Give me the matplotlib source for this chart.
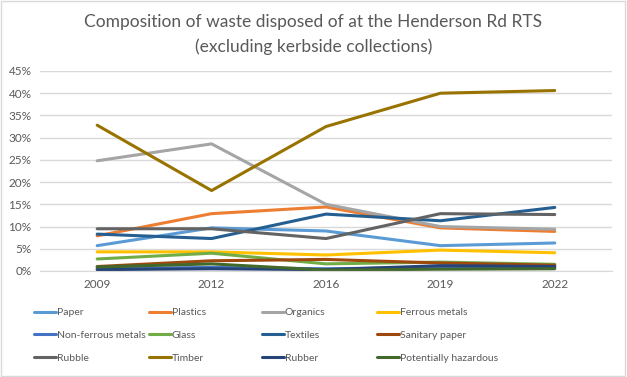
import numpy as np
import matplotlib.pyplot as plt
from matplotlib.patches import Rectangle
from matplotlib.ticker import PercentFormatter

plt.rcParams['font.family'] = ['Lato', 'DejaVu Sans']

years = ['2009', '2012', '2016', '2019', '2022']

paper = [5.7, 9.7, 9.0, 5.7, 6.3]
plastics = [7.9, 12.9, 14.4, 9.7, 8.9]
organics = [24.8, 28.6, 15.0, 10.0, 9.4]
ferrous = [4.3, 4.3, 3.6, 4.7, 4.1]
non_ferrous = [0.5, 0.8, 0.5, 0.8, 0.8]
glass = [2.7, 4.0, 1.6, 2.0, 1.5]
textiles = [8.3, 7.3, 12.8, 11.3, 14.3]
sanitary = [1.0, 2.3, 2.6, 1.8, 1.3]
rubble = [9.5, 9.5, 7.3, 12.9, 12.7]
timber = [32.8, 18.1, 32.5, 40.0, 40.6]
rubber = [0.3, 0.5, 0.3, 1.2, 1.0]
hazardous = [0.9, 1.6, 0.2, 0.4, 0.5]

series = [
    ('Paper', paper, '#5B9BD5'),
    ('Plastics', plastics, '#ED7D31'),
    ('Organics', organics, '#A5A5A5'),
    ('Ferrous metals', ferrous, '#FFC000'),
    ('Non-ferrous metals', non_ferrous, '#4472C4'),
    ('Glass', glass, '#70AD47'),
    ('Textiles', textiles, '#255E91'),
    ('Sanitary paper', sanitary, '#9E480E'),
    ('Rubble', rubble, '#636363'),
    ('Timber', timber, '#997300'),
    ('Rubber', rubber, '#264478'),
    ('Potentially hazardous', hazardous, '#43682B'),
]

fig = plt.figure(figsize=[6.27, 3.77], dpi=100)
ax = fig.add_axes([0.0638, 0.2812, 0.9122, 0.5305])

x = np.arange(len(years))
handles = []
for name, vals, col in series:
    h, = ax.plot(x, vals, color=col, lw=2.2, label=name, solid_capstyle='round')
    handles.append(h)

ax.set_xlim(-0.5, 4.5)
ax.set_ylim(0, 45)
ax.set_yticks(np.arange(0, 46, 5))
ax.yaxis.set_major_formatter(PercentFormatter(decimals=0))
ax.set_xticks(x)
ax.set_xticklabels(years)
ax.grid(axis='y', color='#D9D9D9', lw=1)
ax.set_axisbelow(True)
for s in ['top', 'right', 'left']:
    ax.spines[s].set_visible(False)
ax.spines['bottom'].set_color('#D9D9D9')
ax.tick_params(length=0, labelsize=8.5, colors='#595959', pad=6)

fig.text(0.5, 0.908, 'Composition of waste disposed of at the Henderson Rd RTS\n(excluding kerbside collections)',
         ha='center', va='center', fontsize=12.5, color='#595959', linespacing=1.6)

# legend: four columns placed at equal spacing
col_x = [35, 150, 263, 378]
for c in range(4):
    hs = [handles[c], handles[c + 4], handles[c + 8]]
    lg = fig.legend(hs, [h.get_label() for h in hs], loc='upper left',
                    bbox_to_anchor=(col_x[c] / 627 - 0.002, 1 - 308 / 377),
                    frameon=False, fontsize=7.5, handlelength=2.1, handletextpad=0.12,
                    labelspacing=1.3, borderaxespad=0, borderpad=0)
    for t in lg.get_texts():
        t.set_color('#595959')

fig.patches.append(Rectangle((0.001, 0.002), 0.996, 0.996, transform=fig.transFigure,
                             fill=False, edgecolor='#D9D9D9', lw=1))

fig.savefig('out.png', dpi=100)
